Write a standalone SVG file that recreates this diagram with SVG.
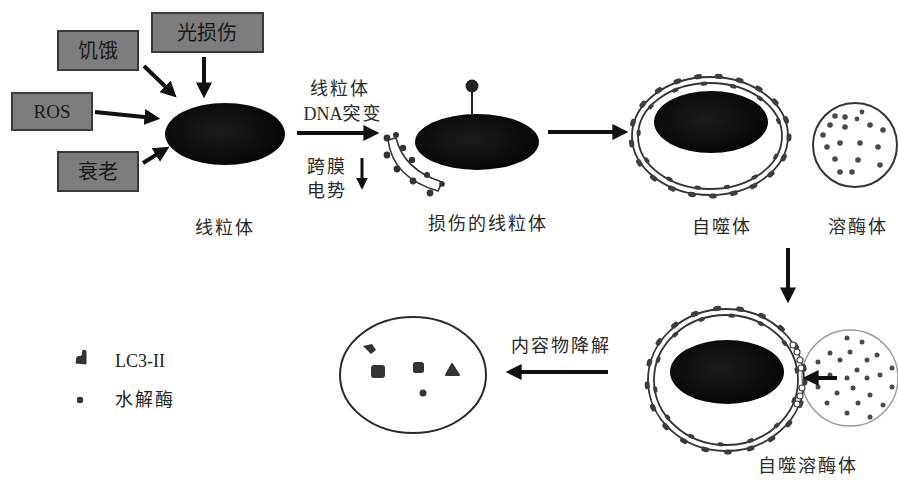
<svg xmlns="http://www.w3.org/2000/svg" width="898" height="480" viewBox="0 0 898 480">
  <defs>
    <style>
      .box { fill: #7d7d7d; stroke: #3a3a3a; stroke-width: 2; }
      .boxtxt { font-family: "Noto Sans CJK SC", "Liberation Serif", serif; font-size: 20px; fill: #1a1a1a; text-anchor: middle; }
      .lbl { font-family: "Noto Sans CJK SC", sans-serif; font-size: 18px; fill: #2a2a2a; text-anchor: middle; letter-spacing: 2px; }
      .arrow { stroke: #111; stroke-width: 4; fill: none; marker-end: url(#head); }
      .thin { stroke: #111; stroke-width: 3; fill: none; marker-end: url(#head); }
      .ring { fill: none; stroke: #333; stroke-width: 1.8; }
      .spikes { fill: none; stroke: #3d3d3d; stroke-linecap: round; }
      .dot { fill: #4a4a4a; }
    </style>
    <marker id="head" viewBox="0 0 10 10" refX="6" refY="5" markerWidth="4" markerHeight="4" orient="auto">
      <path d="M0,0 L10,5 L0,10 Z" fill="#111"/>
    </marker>
    <radialGradient id="mitoFill" cx="0.45" cy="0.45" r="0.6">
      <stop offset="0" stop-color="#1a1a1a"/>
      <stop offset="1" stop-color="#050505"/>
    </radialGradient>
  </defs>

  <rect width="898" height="480" fill="#ffffff"/>

  <!-- stress factors -->
  <g id="starvation">
    <rect class="box" x="58" y="31" width="80" height="39"/>
    <text class="boxtxt" x="98" y="58">饥饿</text>
  </g>
  <g id="light-damage">
    <rect class="box" x="152" y="13" width="111" height="39"/>
    <text class="boxtxt" x="207" y="40">光损伤</text>
  </g>
  <g id="ros">
    <rect class="box" x="12" y="93" width="80" height="37"/>
    <text class="boxtxt" x="52" y="118" style="font-family:'Liberation Serif',serif;font-size:19px">ROS</text>
  </g>
  <g id="aging">
    <rect class="box" x="58" y="152" width="80" height="39"/>
    <text class="boxtxt" x="98" y="179">衰老</text>
  </g>

  <!-- healthy mitochondrion -->
  <g id="mitochondrion">
    <ellipse cx="225" cy="134" rx="60" ry="31" fill="url(#mitoFill)"/>
    <text class="lbl" x="225" y="234">线粒体</text>
  </g>

  <!-- mutation / membrane-potential step -->
  <g id="mutation-label">
    <text class="lbl" x="340" y="95">线粒体</text>
    <text class="lbl" x="343" y="120"><tspan style="font-family:'Liberation Serif',serif;letter-spacing:0">DNA</tspan>突变</text>
    <text class="lbl" x="327" y="173">跨膜</text>
    <text class="lbl" x="327" y="197">电势</text>
  </g>

  <!-- damaged mitochondrion with membrane fragment -->
  <g id="damaged-mitochondrion">
    <path d="M388,140 Q393,178 438,191 L442,182 Q404,170 396,138 Z" fill="#fff" stroke="#333" stroke-width="1.6"/>
    <g fill="#333">
      <circle cx="387" cy="138" r="3.4"/>
      <circle cx="396" cy="135" r="3"/>
      <circle cx="387" cy="155" r="3.4"/>
      <circle cx="403" cy="148" r="3.2"/>
      <circle cx="412" cy="160" r="3.2"/>
      <circle cx="397" cy="169" r="3.4"/>
      <circle cx="413" cy="181" r="3.4"/>
      <circle cx="427" cy="175" r="3"/>
      <circle cx="430" cy="193" r="3.4"/>
      <circle cx="442" cy="184" r="2.8"/>
    </g>
    <ellipse cx="477" cy="142" rx="62" ry="28" fill="url(#mitoFill)"/>
    <line x1="472" y1="114" x2="472" y2="90" stroke="#222" stroke-width="2"/>
    <circle cx="472" cy="86" r="6.5" fill="#222"/>
    <text class="lbl" x="488" y="230">损伤的线粒体</text>
  </g>

  <!-- autophagosome -->
  <g id="autophagosome">
    <ellipse class="ring" cx="710" cy="136" rx="78" ry="59"/>
    <ellipse class="ring" cx="710" cy="136" rx="72" ry="53"/>
    <ellipse class="spikes" cx="710" cy="136" rx="79" ry="60" stroke-dasharray="3 18" stroke-width="5"/>
    <ellipse class="spikes" cx="710" cy="136" rx="71.5" ry="52.5" stroke-dasharray="2.5 27" stroke-dashoffset="9" stroke-width="4"/>
    <ellipse cx="711" cy="122" rx="57" ry="31" fill="url(#mitoFill)"/>
    <text class="lbl" x="722" y="233">自噬体</text>
  </g>

  <!-- lysosome -->
  <g id="lysosome">
    <circle cx="855" cy="145" r="42" fill="#fff" stroke="#333" stroke-width="2"/>
    <g class="dot">
      <circle cx="835" cy="116" r="2.8"/><circle cx="845" cy="117" r="2.8"/>
      <circle cx="857" cy="119" r="2.4"/><circle cx="862" cy="112" r="2.4"/>
      <circle cx="830" cy="125" r="2.8"/><circle cx="845" cy="127" r="2.8"/>
      <circle cx="870" cy="125" r="2.8"/><circle cx="883" cy="130" r="2.8"/>
      <circle cx="823" cy="135" r="2.8"/><circle cx="840" cy="143" r="2.8"/>
      <circle cx="860" cy="143" r="2.8"/><circle cx="878" cy="147" r="2.8"/>
      <circle cx="827" cy="147" r="2.8"/><circle cx="835" cy="159" r="2.8"/>
      <circle cx="858" cy="160" r="2.8"/><circle cx="880" cy="165" r="2.8"/>
      <circle cx="840" cy="172" r="2.8"/><circle cx="852" cy="172" r="2.8"/>
    </g>
    <text class="lbl" x="858" y="233">溶酶体</text>
  </g>

  <!-- autolysosome (fusion) -->
  <g id="autolysosome">
    <circle cx="850" cy="378" r="48" fill="#fff" stroke="#9a9a9a" stroke-width="1.5"/>
    <g class="dot">
      <circle cx="847" cy="338" r="2.5"/><circle cx="862" cy="342" r="2.5"/>
      <circle cx="830" cy="353" r="2.5"/><circle cx="850" cy="352" r="2.5"/>
      <circle cx="877" cy="355" r="2.5"/><circle cx="818" cy="362" r="2.5"/>
      <circle cx="840" cy="360" r="2.5"/><circle cx="867" cy="360" r="2.5"/>
      <circle cx="892" cy="368" r="2.5"/><circle cx="857" cy="370" r="2.5"/>
      <circle cx="830" cy="375" r="2.5"/><circle cx="880" cy="375" r="2.5"/>
      <circle cx="847" cy="378" r="2.5"/><circle cx="867" cy="378" r="2.5"/>
      <circle cx="818" cy="387" r="2.5"/><circle cx="853" cy="388" r="2.5"/>
      <circle cx="892" cy="387" r="2.5"/><circle cx="837" cy="393" r="2.5"/>
      <circle cx="870" cy="395" r="2.5"/><circle cx="827" cy="403" r="2.5"/>
      <circle cx="858" cy="403" r="2.5"/><circle cx="883" cy="405" r="2.5"/>
      <circle cx="847" cy="413" r="2.5"/><circle cx="870" cy="417" r="2.5"/>
    </g>
    <ellipse class="ring" cx="726" cy="380" rx="78" ry="71"/>
    <ellipse class="ring" cx="726" cy="380" rx="72" ry="65"/>
    <ellipse class="spikes" cx="726" cy="380" rx="79" ry="72" stroke-dasharray="3 20" stroke-width="5"/>
    <ellipse class="spikes" cx="726" cy="380" rx="71.5" ry="64.5" stroke-dasharray="2.5 28" stroke-dashoffset="11" stroke-width="4"/>
    <g fill="#fff" stroke="#444" stroke-width="1.2">
      <circle cx="793" cy="345" r="3"/><circle cx="797" cy="352" r="3"/>
      <circle cx="800" cy="360" r="3"/><circle cx="801" cy="368" r="3"/>
      <circle cx="802" cy="388" r="3"/><circle cx="800" cy="396" r="3"/>
      <circle cx="797" cy="404" r="3"/>
    </g>
    <ellipse cx="727" cy="372" rx="57" ry="32" fill="url(#mitoFill)"/>
    <text class="lbl" x="808" y="472">自噬溶酶体</text>
  </g>

  <!-- degraded contents -->
  <g id="degraded">
    <ellipse cx="413" cy="375" rx="73" ry="58" fill="none" stroke="#2a2a2a" stroke-width="2"/>
    <path d="M363,346 L372,344 L376,350 L371,354 Z" fill="#333"/>
    <rect x="371" y="365" width="14" height="13" rx="3" fill="#333"/>
    <rect x="413" y="362" width="11" height="11" rx="2.5" fill="#333"/>
    <path d="M446,375 L452,364 L459,375 Z" fill="#333" stroke="#333" stroke-width="2" stroke-linejoin="round"/>
    <circle cx="423" cy="393" r="3.5" fill="#333"/>
    <text class="lbl" x="561" y="352">内容物降解</text>
  </g>

  <!-- legend -->
  <g id="legend">
    <path d="M76,363 L77,357 L82,356 L83,350 L86,351 L86,364 Z" fill="#333" stroke="#333" stroke-width="1" stroke-linejoin="round"/>
    <text x="115" y="367" style="font-family:'Liberation Serif',serif;font-size:18px;fill:#222">LC3-II</text>
    <circle cx="80" cy="400" r="3.2" fill="#333"/>
    <text x="115" y="406" style="font-family:'Noto Sans CJK SC',sans-serif;font-size:18px;fill:#222;letter-spacing:2px">水解酶</text>
  </g>

  <!-- connectors -->
  <g id="connectors">
    <line class="arrow" x1="144" y1="66" x2="172" y2="93"/>
    <line class="arrow" x1="204" y1="57" x2="204" y2="92"/>
    <line class="arrow" x1="95" y1="112" x2="154" y2="118"/>
    <line class="arrow" x1="143" y1="163" x2="164" y2="150"/>
    <line class="arrow" x1="297" y1="133" x2="373" y2="133"/>
    <line class="thin" x1="362" y1="158" x2="362" y2="185"/>
    <line class="arrow" x1="548" y1="132" x2="622" y2="132"/>
    <line class="arrow" x1="788" y1="248" x2="788" y2="297"/>
    <line class="arrow" x1="837" y1="378" x2="809" y2="378"/>
    <line class="arrow" x1="608" y1="372" x2="512" y2="372"/>
  </g>
</svg>
